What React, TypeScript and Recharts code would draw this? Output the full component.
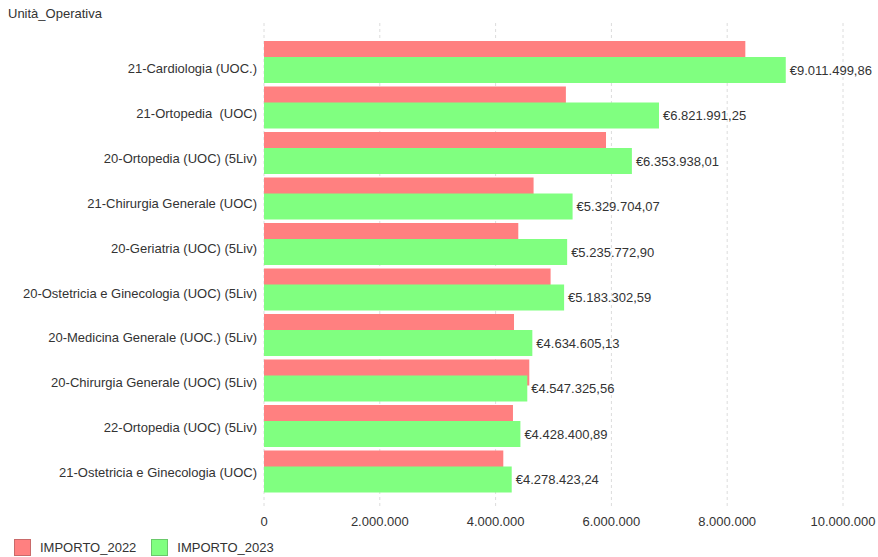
import { BarChart, Bar, XAxis, YAxis, CartesianGrid, LabelList, Legend } from 'recharts';

const CATEGORIES = [
  '21-Cardiologia (UOC.)',
  '21-Ortopedia  (UOC)',
  '20-Ortopedia (UOC) (5Liv)',
  '21-Chirurgia Generale (UOC)',
  '20-Geriatria (UOC) (5Liv)',
  '20-Ostetricia e Ginecologia (UOC) (5Liv)',
  '20-Medicina Generale (UOC.) (5Liv)',
  '20-Chirurgia Generale (UOC) (5Liv)',
  '22-Ortopedia (UOC) (5Liv)',
  '21-Ostetricia e Ginecologia (UOC)',
];

// (no labels on the 2022 bars)
const IMPORTO_2022 = [8313000, 5214000, 5907000, 4656000, 4392000, 4950000, 4318000, 4582000, 4300000, 4133000];
const IMPORTO_2023 = [9011499.86, 6821991.25, 6353938.01, 5329704.07, 5235772.9, 5183302.59, 4634605.13, 4547325.56, 4428400.89, 4278423.24];

const X_TICKS = [0, 2000000, 4000000, 6000000, 8000000, 10000000];

const SERIES = [
  { key: 'IMPORTO_2022', color: '#FF8080', border: '#c96a6a' },
  { key: 'IMPORTO_2023', color: '#80FF80', border: '#6ac96a' },
];

const FONT = '"Liberation Sans", Arial, sans-serif';
const TEXT = '#333333';
const FS = 13;

const data = CATEGORIES.map((name, i) => ({
  name,
  IMPORTO_2022: IMPORTO_2022[i],
  IMPORTO_2023: IMPORTO_2023[i],
}));

const groupThousands = (s: string) => s.replace(/\B(?=(\d{3})+(?!\d))/g, '.');

const fmtTick = (v: number) => groupThousands(Math.round(v).toString());

const fmtEuro = (v: number) => {
  const [int, dec] = v.toFixed(2).split('.');
  return `€${groupThousands(int)},${dec}`;
};

// labels sit a little below the band centre, drifting up towards the bottom
const CategoryTick = (props: any) => {
  const { x, y, payload, index } = props;
  return (
    <text
      x={x}
      y={y + 7 - index * 0.65}
      dy="0.355em"
      textAnchor="end"
      fontSize={FS}
      fill={TEXT}
      fontFamily={FONT}
      style={{ whiteSpace: 'pre' }}
    >
      {payload.value}
    </text>
  );
};

const LegendContent = () => (
  <div style={{ display: 'flex', alignItems: 'center', height: 20, paddingLeft: 14, fontFamily: FONT, fontSize: FS, color: TEXT }}>
    {SERIES.map((s) => (
      <div key={s.key} style={{ display: 'flex', alignItems: 'center', marginRight: 15 }}>
        <span style={{ display: 'inline-block', width: 15, height: 15, background: s.color, border: `1px solid ${s.border}`, marginRight: 9 }} />
        <span>{s.key}</span>
      </div>
    ))}
  </div>
);

export default function App() {
  return (
    <div style={{ position: 'absolute', left: 0, top: 0, width: 878, height: 557, background: '#fff' }}>
      <div style={{ position: 'absolute', left: 8, top: 6, fontFamily: FONT, fontSize: FS, color: TEXT, zIndex: 1 }}>
        Unità_Operativa
      </div>
      <BarChart
        width={878}
        height={557}
        data={data}
        layout="vertical"
        margin={{ top: 23, right: 35, left: 0, bottom: 0 }}
        barSize={26}
        barGap={-10}
      >
        <CartesianGrid horizontal={false} strokeDasharray="3 3" stroke="#dcdcdc" />
        <XAxis
          type="number"
          domain={[0, 10000000]}
          ticks={X_TICKS}
          tickFormatter={fmtTick}
          axisLine={false}
          tickLine={false}
          tickMargin={4}
          height={30}
          tick={{ fontSize: FS, fill: TEXT, fontFamily: FONT }}
        />
        <YAxis
          type="category"
          dataKey="name"
          width={264}
          axisLine={false}
          tickLine={false}
          tickMargin={1}
          padding={{ top: 16, bottom: 13 }}
          tick={<CategoryTick />}
          interval={0}
        />
        <Legend verticalAlign="bottom" align="left" height={20} wrapperStyle={{ left: 0 }} content={<LegendContent />} />
        <Bar dataKey="IMPORTO_2022" fill={SERIES[0].color} isAnimationActive={false} />
        <Bar dataKey="IMPORTO_2023" fill={SERIES[1].color} isAnimationActive={false}>
          <LabelList
            dataKey="IMPORTO_2023"
            position="right"
            offset={4}
            formatter={(v: any) => fmtEuro(Number(v))}
            style={{ fontSize: FS, fill: TEXT, fontFamily: FONT }}
          />
        </Bar>
      </BarChart>
    </div>
  );
}
